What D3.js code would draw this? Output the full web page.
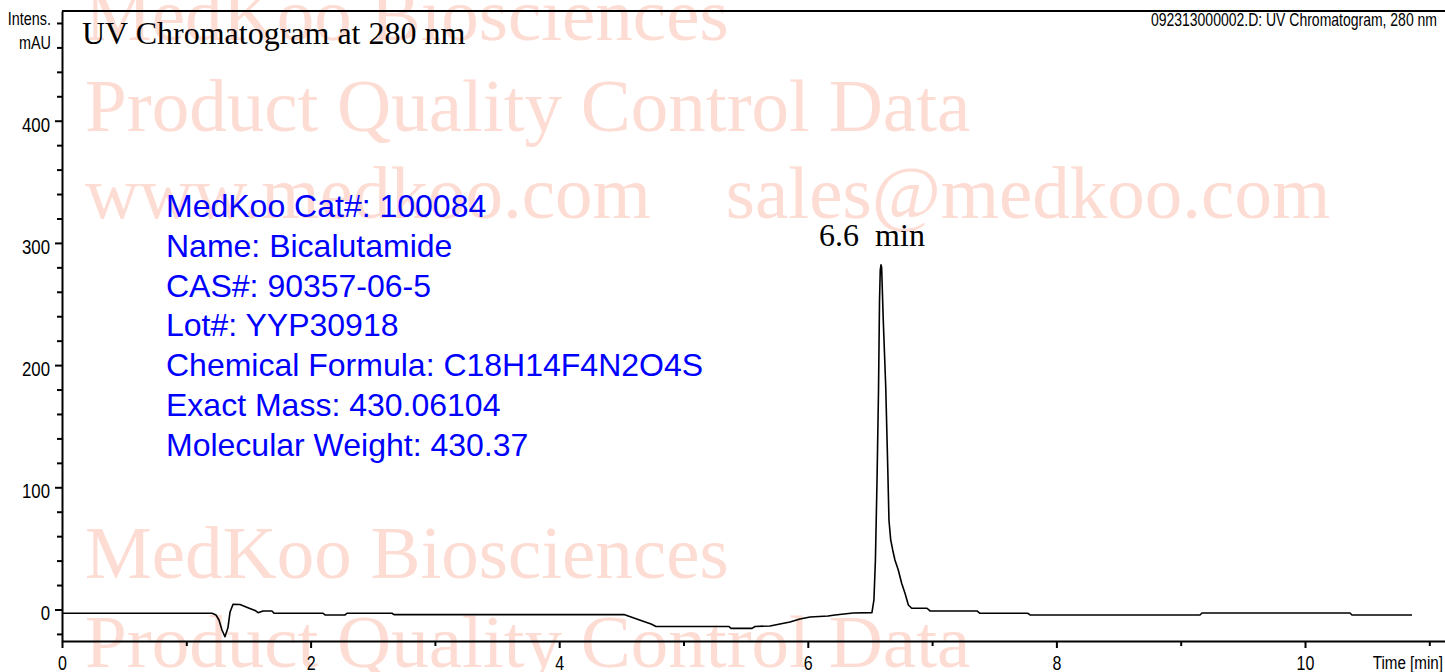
<!DOCTYPE html>
<html>
<head>
<meta charset="utf-8">
<script src="https://cdn.jsdelivr.net/npm/d3@7"></script>
<style>
  body { margin: 0; background: #fff; }
  svg { display: block; }
  .axis path, .axis line { stroke: #000; stroke-width: 2; }
  .axis text, .narrow { font-family: "Liberation Sans", Arial, sans-serif; fill: #000; }
  .wm { font-family: "Liberation Serif", "Times New Roman", serif; font-size: 75px; fill: #fddcd3; white-space: pre; }
</style>
</head>
<body>
<div id="chart"></div>
<script>
/* CONSTANTS AND GLOBALS */
const width = 1445,
  height = 672,
  margin = { top: 11, bottom: 31, left: 62, right: 0 },
  narrowK = 0.8; // no narrow font installed, so squeeze the sans horizontally

// chromatogram trace (time in min, intensity in mAU)
const times = [0, 1.207, 1.239, 1.263, 1.287, 1.311, 1.335, 1.352, 1.376, 1.432, 1.496, 1.553, 1.577, 1.617, 1.689, 1.706,
  2.100, 2.116, 2.277, 2.293, 2.655, 2.671, 4.521, 4.578, 4.658, 4.739, 4.779, 5.366, 5.382, 5.551, 5.575, 5.696,
  5.776, 5.857, 5.937, 6.018, 6.163, 6.219, 6.364, 6.516, 6.532, 6.544, 6.557, 6.569, 6.577, 6.583, 6.589, 6.594,
  6.607, 6.627, 6.643, 6.653, 6.667, 6.683, 6.701, 6.728, 6.755, 6.782, 6.809, 6.836, 6.959, 6.983, 7.361, 7.385,
  7.771, 7.788, 9.155, 9.171, 10.362, 10.378, 10.861];
const intensities = [-3.1, -3.1, -4.5, -8.6, -16.8, -22.3, -15, -2, 4.3, 4.1, 1.5, -0.8, -2.6, -1.2, -1.2, -3.1,
  -3.1, -4.5, -4.5, -3.1, -3.1, -4.2, -4.2, -6.1, -9, -11.9, -13.9, -13.9, -15.5, -15.5, -13.9, -13.5,
  -11.9, -10.2, -7.8, -6.1, -5.3, -4.5, -2.9, -2.6, 7.8, 40.5, 106, 180, 253, 278, 282, 280,
  237, 182, 117, 73, 57, 48.7, 40.5, 32.3, 21.5, 13.3, 3.7, 1, 1, -1.2, -1.2, -3.1,
  -3.1, -4.5, -4.5, -2.9, -2.9, -4.5, -4.5];

const xDomain = [0, 11.2];
const yDomain = [-25.8, 489.8];
const xMajorTicks = [0, 2, 4, 6, 8, 10];
const xMinorTicks = [1, 3, 5, 7, 9, 11];
const yMajorTicks = [0, 100, 200, 300, 400];
const yMinorTicks = [-20, 20, 40, 60, 80, 120, 140, 160, 180, 220, 240, 260, 280, 320, 340, 360, 380, 420, 440];
const yUnitTicks = [480, 460];
const yUnitLabels = ["Intens.", "mAU"];

const peakTime = 6.589;
const peakLabel = "6.6  min";
const chartTitle = "UV Chromatogram at 280 nm";
const fileLabel = "092313000002.D: UV Chromatogram, 280 nm";
const xAxisLabel = "Time [min]";

const infoLines = [
  "MedKoo Cat#: 100084",
  "Name: Bicalutamide",
  "CAS#: 90357-06-5",
  "Lot#: YYP30918",
  "Chemical Formula: C18H14F4N2O4S",
  "Exact Mass: 430.06104",
  "Molecular Weight: 430.37"
];

const watermarks = [
  { text: "MedKoo Biosciences", y: 40 },
  { text: "Product Quality Control Data", y: 131 },
  { text: "www.medkoo.com    sales@medkoo.com", y: 218 },
  { text: "MedKoo Biosciences", y: 578 },
  { text: "Product Quality Control Data", y: 667 }
];

// squeeze a text selection horizontally, keeping its anchor point in place
function condense(sel) {
  sel.each(function() {
    const t = d3.select(this);
    const x = +t.attr("x") || 0;
    t.attr("x", x / narrowK).attr("transform", `scale(${narrowK},1)`);
  });
}

const svg = d3.select("#chart")
  .append("svg")
  .attr("width", width)
  .attr("height", height);

// watermark behind everything
svg.append("g")
  .selectAll("text")
  .data(watermarks)
  .join("text")
  .attr("class", "wm")
  .attr("x", 85)
  .attr("y", d => d.y)
  .text(d => d.text);

/* SCALES */
const xScale = d3.scaleLinear()
  .domain(xDomain)
  .range([margin.left, margin.left + 124.3 * xDomain[1]]);

const yScale = d3.scaleLinear()
  .domain(yDomain)
  .range([height - margin.bottom, margin.top]);

/* AXES */
// minor ticks first, then major ticks with labels
svg.append("g")
  .attr("class", "axis")
  .attr("transform", `translate(0,${height - margin.bottom})`)
  .call(d3.axisBottom(xScale).tickValues(xMinorTicks).tickSize(5).tickFormat(""))
  .call(g => g.select(".domain").remove());

svg.append("g")
  .attr("class", "axis x-axis")
  .attr("transform", `translate(0,${height - margin.bottom})`)
  .call(d3.axisBottom(xScale).tickValues(xMajorTicks).tickSize(7).tickSizeOuter(0).tickPadding(8))
  .call(g => g.selectAll("text").attr("font-size", 20).call(condense));

svg.append("text")
  .attr("class", "narrow")
  .attr("x", width - 2)
  .attr("y", 669)
  .attr("text-anchor", "end")
  .attr("font-size", 19)
  .text(xAxisLabel)
  .call(condense);

svg.append("g")
  .attr("class", "axis")
  .attr("transform", `translate(${margin.left},0)`)
  .call(d3.axisLeft(yScale).tickValues(yMinorTicks.concat(yUnitTicks)).tickSize(5).tickFormat(""))
  .call(g => g.select(".domain").remove());

svg.append("g")
  .attr("class", "axis y-axis")
  .attr("transform", `translate(${margin.left},0)`)
  .call(d3.axisLeft(yScale).tickValues(yMajorTicks).tickSize(7).tickSizeOuter(0).tickPadding(5))
  .call(g => g.selectAll("text").attr("font-size", 21).attr("dy", "0.5em").call(condense));

svg.append("g")
  .selectAll("text")
  .data(yUnitTicks)
  .join("text")
  .attr("class", "narrow")
  .attr("x", margin.left - 11)
  .attr("y", d => yScale(d) + 2)
  .attr("text-anchor", "end")
  .attr("font-size", 18)
  .text((d, i) => yUnitLabels[i])
  .call(condense);

// top frame line
svg.append("line")
  .attr("x1", xScale(xDomain[0]))
  .attr("x2", xScale(xDomain[1]))
  .attr("y1", yScale(yDomain[1]))
  .attr("y2", yScale(yDomain[1]))
  .attr("stroke", "#000")
  .attr("stroke-width", 2);

/* TRACE */
const line = d3.line()
  .x((d, i) => xScale(times[i]))
  .y(d => yScale(d));

svg.append("path")
  .datum(intensities)
  .attr("fill", "none")
  .attr("stroke", "#000")
  .attr("stroke-width", 1.6)
  .attr("stroke-linejoin", "round")
  .attr("d", line);

/* TEXTS */
svg.append("text")
  .attr("x", 82)
  .attr("y", 44)
  .attr("font-family", "Liberation Serif, Times New Roman, serif")
  .attr("font-size", 32)
  .text(chartTitle);

svg.append("text")
  .attr("class", "narrow")
  .attr("x", 1437)
  .attr("y", 26)
  .attr("text-anchor", "end")
  .attr("font-size", 17.5)
  .text(fileLabel)
  .call(condense);

svg.append("text")
  .attr("x", xScale(peakTime) - 9)
  .attr("y", 246)
  .attr("text-anchor", "middle")
  .attr("font-family", "Liberation Serif, Times New Roman, serif")
  .attr("font-size", 32)
  .style("white-space", "pre")
  .text(peakLabel);

svg.append("g")
  .selectAll("text")
  .data(infoLines)
  .join("text")
  .attr("x", 166)
  .attr("y", (d, i) => 217 + i * 39.8)
  .attr("font-family", "Liberation Sans, Arial, sans-serif")
  .attr("font-size", 32)
  .attr("fill", "#0000ff")
  .text(d => d);
</script>
</body>
</html>
